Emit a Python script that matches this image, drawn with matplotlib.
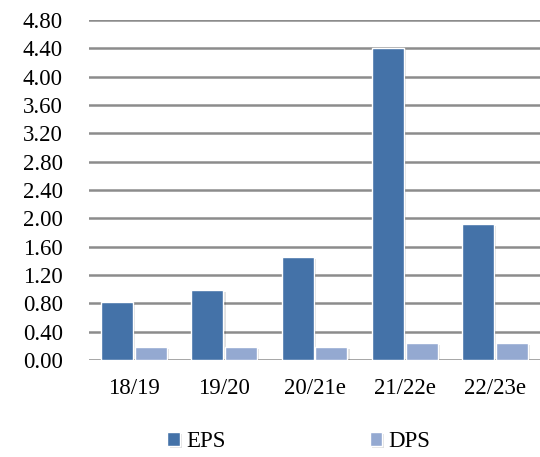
import numpy as np
import matplotlib.pyplot as plt
import matplotlib.patheffects as pe

plt.rcParams['font.family'] = ['Liberation Serif', 'DejaVu Serif']

## fiscal years
years = ['18/19', '19/20', '20/21e', '21/22e', '22/23e']

## earnings and dividends per share
eps = [0.82, 0.99, 1.46, 4.41, 1.92]
dps = [0.19, 0.19, 0.18, 0.24, 0.24]

yticks = np.arange(0, 4.81, 0.4)

fig = plt.figure(figsize=(5.4, 4.57), dpi=100)
ax = fig.add_axes([0.165, 0.212, 0.835, 0.744])

x = np.arange(len(years))
w = 0.355
shadow = [pe.SimplePatchShadow(offset=(1.5, -1.5), shadow_rgbFace='#000000', alpha=0.12), pe.Normal()]
b1 = ax.bar(x - w/2 - 0.01, eps, w, color='#4472a8', edgecolor='white', linewidth=1.0,
            label='EPS', zorder=3, path_effects=shadow)
b2 = ax.bar(x + w/2 + 0.01, dps, w, color='#94a9d1', edgecolor='white', linewidth=1.0,
            label='DPS', zorder=3, path_effects=shadow)

ax.set_xlim(-0.5, len(years) - 0.5)
ax.set_ylim(0, 4.8)
ax.set_yticks(yticks)
ax.set_yticklabels(['%.2f' % v for v in yticks])
ax.set_xticks(x)
ax.set_xticklabels(years)
ax.tick_params(axis='both', length=0, labelsize=16.5, colors='#000000')
ax.tick_params(axis='y', pad=19)
ax.tick_params(axis='x', pad=13)
ax.grid(axis='y', color='#8c8c8c', linewidth=1.8, zorder=0)
ax.set_axisbelow(True)
for s in ax.spines.values():
    s.set_visible(False)

fig.legend(handles=[b1, b2], loc='center', bbox_to_anchor=(0.553, 0.033), ncol=2,
           frameon=False, fontsize=16.5, handlelength=0.55, handleheight=0.55,
           handletextpad=0.25, columnspacing=6.3)

fig.savefig('out.png', dpi=100)
